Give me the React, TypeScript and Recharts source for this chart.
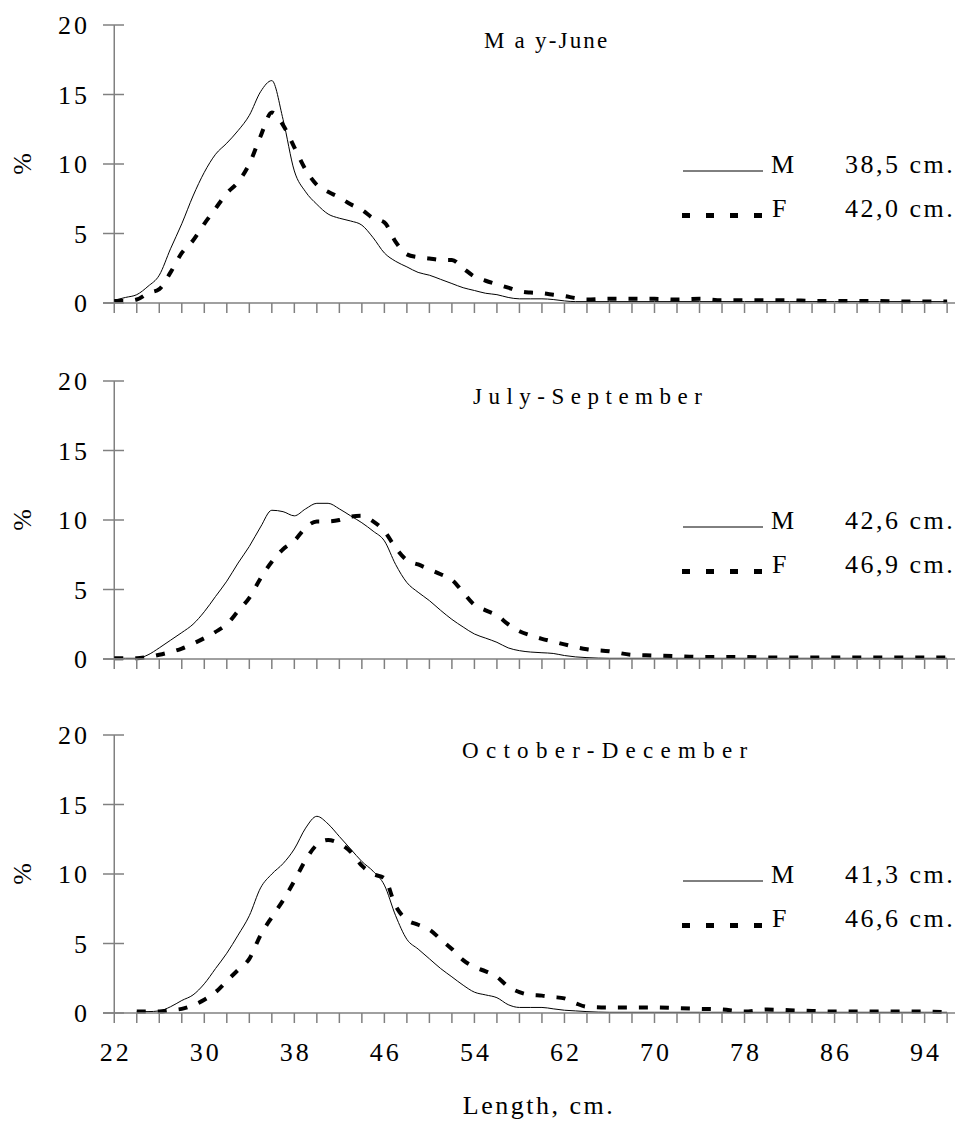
import React from 'react';
import { LineChart, Line, XAxis, YAxis, ReferenceLine, Label } from 'recharts';

// ---------- data ----------
const lengths = [
  22, 23, 24, 25, 26, 27, 28, 29, 30, 31, 32, 33, 34, 35, 36, 37, 38, 39, 40, 41, 42, 43,
  44, 45, 46, 47, 48, 49, 50, 51, 52, 53, 54, 55, 56, 57, 58, 59, 60, 61, 62, 63, 64,
  66, 68, 70, 72, 74, 76, 78, 80, 82, 84, 86, 88, 90, 92, 94, 96,
];

const mayJuneM = [
  0.2, 0.4, 0.6, 1.2, 2.0, 3.9, 5.7, 7.7, 9.4, 10.7, 11.5, 12.4, 13.5, 15.2, 16.0, 13.2, 9.5, 8.0, 7.1, 6.4, 6.1, 5.9,
  5.6, 4.7, 3.6, 3.0, 2.6, 2.2, 2.0, 1.7, 1.4, 1.1, 0.9, 0.7, 0.6, 0.4, 0.3, 0.3, 0.3, 0.25, 0.15, 0.1, 0.1,
  0.1, 0.1, 0.1, 0.1, 0.1, 0.1, 0.1, 0.1, 0.1, 0.1, 0.1, 0.1, 0.1, 0.1, 0.1, 0.1,
];
const mayJuneF = [
  0.15, 0.15, 0.25, 0.7, 1.0, 2.2, 3.6, 4.5, 5.7, 6.8, 7.9, 8.7, 10.0, 12.0, 13.7, 12.8, 11.2, 9.6, 8.5, 8.0, 7.6, 7.1,
  6.7, 6.1, 5.8, 4.4, 3.5, 3.3, 3.2, 3.1, 3.1, 2.5, 1.9, 1.6, 1.35, 1.1, 0.85, 0.75, 0.7, 0.6, 0.5, 0.35, 0.25,
  0.3, 0.3, 0.3, 0.25, 0.3, 0.2, 0.2, 0.2, 0.2, 0.15, 0.15, 0.15, 0.15, 0.1, 0.1, 0.1,
];

const julySepM = [
  0.05, 0.05, 0.05, 0.3, 0.8, 1.35, 1.9, 2.5, 3.4, 4.5, 5.6, 6.9, 8.1, 9.5, 10.7, 10.6, 10.3, 10.8, 11.2, 11.2, 10.8, 10.3,
  9.8, 9.2, 8.5, 6.8, 5.5, 4.8, 4.2, 3.5, 2.85, 2.3, 1.8, 1.5, 1.2, 0.8, 0.6, 0.5, 0.45, 0.4, 0.25, 0.15, 0.1,
  0.05, 0.05, 0.05, 0.05, 0.05, 0.05, 0.05, 0.05, 0.05, 0.05, 0.05, 0.05, 0.05, 0.05, 0.05, 0.05,
];
const julySepF = [
  0.05, 0.05, 0.05, 0.15, 0.3, 0.5, 0.75, 1.1, 1.5, 1.95, 2.5, 3.45, 4.4, 5.8, 7.0, 7.9, 8.5, 9.45, 9.9, 9.9, 10.0, 10.25,
  10.3, 9.9, 9.2, 8.0, 7.1, 6.8, 6.45, 6.1, 5.7, 4.8, 3.9, 3.5, 3.15, 2.5, 2.0, 1.7, 1.45, 1.25, 1.05, 0.85, 0.7,
  0.55, 0.3, 0.25, 0.2, 0.15, 0.15, 0.15, 0.1, 0.1, 0.1, 0.1, 0.1, 0.1, 0.1, 0.1, 0.1,
];

const octDecM = [
  null, null, 0.1, 0.1, 0.15, 0.45, 0.9, 1.3, 2.1, 3.2, 4.3, 5.6, 7.0, 9.0, 10.0, 10.75, 11.8, 13.3, 14.15, 13.6, 12.7, 11.8,
  10.9, 10.2, 9.2, 7.0, 5.3, 4.6, 3.9, 3.2, 2.6, 2.0, 1.5, 1.3, 1.1, 0.6, 0.4, 0.4, 0.4, 0.3, 0.2, 0.15, 0.1,
  0.05, 0.05, 0.05, 0.05, 0.05, 0.05, 0.05, 0.05, 0.05, 0.05, 0.05, 0.05, 0.05, 0.05, 0.05, 0.05,
];
const octDecF = [
  null, null, 0.1, 0.1, 0.1, 0.2, 0.3, 0.55, 0.95, 1.5, 2.3, 3.1, 3.9, 5.6, 6.9, 8.1, 9.5, 11.0, 12.1, 12.45, 12.2, 11.6,
  10.6, 10.0, 9.7, 7.7, 6.7, 6.35, 6.0, 5.3, 4.6, 3.8, 3.3, 3.0, 2.6, 1.9, 1.5, 1.3, 1.25, 1.15, 1.05, 0.7, 0.45,
  0.4, 0.4, 0.4, 0.35, 0.3, 0.25, 0.1, 0.25, 0.2, 0.15, 0.1, 0.1, 0.1, 0.1, 0.1, 0.05,
];

const periodTitles = ['M a y-June', 'July-September', 'October-December'];
const meanM = ['38,5 cm.', '42,6 cm.', '41,3 cm.'];
const meanF = ['42,0 cm.', '46,9 cm.', '46,6 cm.'];
const yTicks = [0, 5, 10, 15, 20];
const xTicks = [22, 24, 26, 28, 30, 32, 34, 36, 38, 40, 42, 44, 46, 48, 50, 52, 54, 56, 58, 60,
  62, 64, 66, 68, 70, 72, 74, 76, 78, 80, 82, 84, 86, 88, 90, 92, 94, 96];
const xLabelTicks = [22, 30, 38, 46, 54, 62, 70, 78, 86, 94];
const xTitle = 'Length, cm.';
const yTitle = '%';

const seriesM = [mayJuneM, julySepM, octDecM];
const seriesF = [mayJuneF, julySepF, octDecF];

// ---------- layout / style ----------
const FONT = '"Liberation Serif", "Times New Roman", serif';
const AXIS = '#808080';
const W = 961;
const PLOT_LEFT = 103;
const PLOT_TOP = 25;
const PLOT_H = 278;
const chartTops = [0, 356, 710];
const titleX = [484, 473, 462];
const titleSpacing = [2.2, 6.5, 7.3];

const textStyle = { fontFamily: FONT, fontSize: 26, letterSpacing: 2.5, fill: '#000' } as const;

const YTick = (props: any) => {
  const { y, payload } = props;
  return (
    <g>
      <line x1={PLOT_LEFT} x2={PLOT_LEFT + 21} y1={y} y2={y} stroke={AXIS} strokeWidth={1.5} />
      <text x={90} y={y} dy={9} textAnchor="end" {...textStyle} letterSpacing={3}>{payload.value}</text>
    </g>
  );
};

const makeXTick = (showLabels: boolean) => (props: any) => {
  const { x, y, payload } = props;
  if (!showLabels || !xLabelTicks.includes(payload.value)) return <g />;
  return (
    <text x={x + 1.5} y={y + 36} textAnchor="middle" {...textStyle} letterSpacing={3}>{payload.value}</text>
  );
};

function Panel({ idx }: { idx: number }) {
  const bottom = idx === 2;
  const xAxisH = bottom ? 1131 - chartTops[2] - PLOT_TOP - PLOT_H : 17;
  const height = PLOT_TOP + PLOT_H + xAxisH;
  const data = lengths.map((L, i) => ({ L, m: seriesM[idx][i], f: seriesF[idx][i] }));
  const legM = PLOT_TOP + 146;
  const legF = PLOT_TOP + 190.5;
  return (
    <div style={{ position: 'absolute', left: 0, top: chartTops[idx], width: W, height }}>
      <LineChart width={W} height={height} data={data} margin={{ top: PLOT_TOP, right: 6, bottom: 0, left: 0 }}>
        <XAxis
          dataKey="L"
          type="number"
          domain={[21, 96.7]}
          ticks={xTicks}
          interval={0}
          tickSize={10}
          height={xAxisH}
          axisLine={{ stroke: AXIS, strokeWidth: 1.5 }}
          tickLine={{ stroke: AXIS, strokeWidth: 1.5 }}
          tick={makeXTick(bottom)}
          allowDataOverflow
        >
          {bottom && (
            <Label
              content={() => (
                <text x={539} y={404} textAnchor="middle" {...textStyle} letterSpacing={2.5}>{xTitle}</text>
              )}
            />
          )}
        </XAxis>
        <YAxis
          type="number"
          domain={[0, 20]}
          ticks={yTicks}
          interval={0}
          width={PLOT_LEFT}
          axisLine={false}
          tickLine={false}
          tick={YTick}
        >
          <Label
            content={() => (
              <text
                transform={`translate(31, ${PLOT_TOP + PLOT_H / 2}) rotate(-90)`}
                textAnchor="middle"
                {...textStyle}
                letterSpacing={0}
              >
                {yTitle}
              </text>
            )}
          />
        </YAxis>
        <ReferenceLine x={22} stroke={AXIS} strokeWidth={1.5} />
        <Line
          type="monotone"
          dataKey="m"
          stroke="#000"
          strokeWidth={1}
          dot={false}
          isAnimationActive={false}
        />
        <Line
          type="monotone"
          dataKey="f"
          stroke="#000"
          strokeWidth={4}
          strokeDasharray="9 12"
          dot={false}
          isAnimationActive={false}
        />
        <text x={titleX[idx]} y={PLOT_TOP + 23} {...textStyle} fontSize={23} letterSpacing={titleSpacing[idx]}>
          {periodTitles[idx]}
        </text>
        <line x1={683} x2={763} y1={legM} y2={legM} stroke="#000" strokeWidth={1} />
        <text x={771} y={legM + 2} {...textStyle} letterSpacing={0}>M</text>
        <text x={845} y={legM + 2} {...textStyle}>{meanM[idx]}</text>
        <line x1={682} x2={764} y1={legF} y2={legF} stroke="#000" strokeWidth={5} strokeDasharray="8 16" />
        <text x={772} y={legF + 1} {...textStyle} letterSpacing={0}>F</text>
        <text x={845} y={legF + 1} {...textStyle}>{meanF[idx]}</text>
      </LineChart>
    </div>
  );
}

export default function App() {
  return (
    <div style={{ position: 'absolute', left: 0, top: 0, width: W, height: 1131, background: '#fff' }}>
      <Panel idx={0} />
      <Panel idx={1} />
      <Panel idx={2} />
    </div>
  );
}
